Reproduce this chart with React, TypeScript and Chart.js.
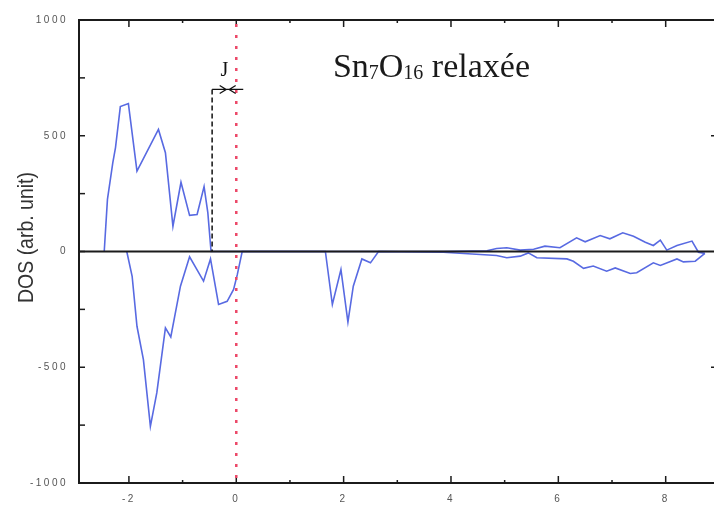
import React, { useEffect, useRef } from 'react';
import { Chart, registerables } from 'chart.js';

Chart.register(...registerables);

// Spin-up DOS (positive) — energy (eV) and DOS (arb. unit)
const spinUpEnergy = [-2.46, -2.40, -2.30, -2.25, -2.16, -2.01, -1.85, -1.45, -1.32, -1.18, -1.03, -0.87, -0.73, -0.60, -0.53, -0.47,
  3.86, 4.67, 4.85, 5.04, 5.29, 5.54, 5.75, 6.03, 6.34, 6.50, 6.78, 6.96, 7.20, 7.40, 7.62, 7.77, 7.90, 8.02, 8.21, 8.49, 8.61, 8.73];
const spinUpDos = [0, 225, 384, 449, 626, 639, 347, 527, 427, 109, 299, 156, 160, 280, 168, 0,
  0, 3, 13, 16, 6, 10, 23, 16, 59, 42, 69, 55, 81, 66, 40, 26, 49, 6, 26, 45, -3, -8];

// Spin-down DOS (negative)
const spinDownEnergy = [-2.04, -1.94, -1.85, -1.73, -1.60, -1.48, -1.32, -1.22, -1.04, -0.87, -0.61, -0.48, -0.33, -0.17, -0.05, 0.02, 0.11,
  1.66, 1.79, 1.95, 2.08, 2.18, 2.34, 2.50, 2.65,
  3.86, 4.85, 5.04, 5.29, 5.44, 5.60, 6.16, 6.28, 6.47, 6.65, 6.90, 7.06, 7.34, 7.46, 7.77, 7.90, 8.21, 8.33, 8.55, 8.73];
const spinDownDos = [0, -107, -323, -467, -755, -610, -330, -369, -150, -23, -128, -32, -229, -215, -164, -99, 0,
  0, -229, -78, -305, -150, -32, -49, 0,
  -3, -17, -27, -20, -6, -27, -32, -42, -73, -63, -85, -71, -95, -92, -49, -60, -32, -45, -42, -8];

// Axes
const xMin = -2.93;
const xMax = 8.9;
const yMin = -1000;
const yMax = 1000;
const yLabelStep = 500;
const yTickStep = 250;

// Annotations
const fermiEnergy = 0;
const gapEdgeEnergy = -0.45;
const gapArrowDos = 700;
const gapArrowEnd = 0.13;
const gapLabel = 'J';
const gapLabelEnergy = -0.22;
const gapLabelDos = 760;
const titleEnergy = 1.8;
const titleDos = 755;
const titleParts = [
  { text: 'Sn', sub: false },
  { text: '7', sub: true },
  { text: 'O', sub: false },
  { text: '16', sub: true },
  { text: ' relaxée', sub: false },
];
const yAxisTitle = 'DOS (arb. unit)';

const curveColor = 'rgb(88,106,226)';
const frameColor = '#1b1b1b';

const decorPlugin = {
  id: 'decor',
  beforeDraw(chart: any) {
    chart.ctx.letterSpacing = '2.5px';
  },
  beforeDatasetsDraw(chart: any) {
    chart.ctx.letterSpacing = '0px';
  },
  afterDatasetsDraw(chart: any) {
    const ctx = chart.ctx as CanvasRenderingContext2D;
    const { left, right, top, bottom } = chart.chartArea;
    const xs = chart.scales.x;
    const ys = chart.scales.y;
    ctx.save();
    ctx.letterSpacing = '0px';

    // zero line
    const y0 = ys.getPixelForValue(0);
    ctx.strokeStyle = frameColor;
    ctx.lineWidth = 1.8;
    ctx.beginPath();
    ctx.moveTo(left, y0);
    ctx.lineTo(right, y0);
    ctx.stroke();

    // frame (top, left, bottom)
    ctx.lineWidth = 2;
    ctx.beginPath();
    ctx.moveTo(right, top);
    ctx.lineTo(left, top);
    ctx.lineTo(left, bottom);
    ctx.lineTo(right, bottom);
    ctx.stroke();

    // x ticks (bottom and top, inward)
    ctx.lineWidth = 1.5;
    xs.ticks.forEach((t: any) => {
      const v = Math.round(t.value);
      const px = xs.getPixelForValue(t.value);
      const len = v % 2 === 0 ? 7 : 3;
      ctx.beginPath();
      ctx.moveTo(px, bottom);
      ctx.lineTo(px, bottom - len);
      ctx.moveTo(px, top);
      ctx.lineTo(px, top + len);
      ctx.stroke();
    });
    // y ticks (left inward, right small)
    ys.ticks.forEach((t: any) => {
      const py = ys.getPixelForValue(t.value);
      ctx.beginPath();
      ctx.moveTo(left, py);
      ctx.lineTo(left + 6, py);
      ctx.stroke();
      if (t.value % yLabelStep === 0 && t.value !== 0 && Math.abs(t.value) !== yMax) {
        ctx.beginPath();
        ctx.moveTo(right, py);
        ctx.lineTo(right - 3, py);
        ctx.stroke();
      }
    });

    // Fermi level (red dotted)
    const xf = xs.getPixelForValue(fermiEnergy);
    ctx.strokeStyle = 'rgb(236,72,104)';
    ctx.lineWidth = 2.5;
    ctx.setLineDash([3, 8]);
    ctx.beginPath();
    ctx.moveTo(xf, top + 4);
    ctx.lineTo(xf, bottom);
    ctx.stroke();

    // gap edge dashed line
    const xg = xs.getPixelForValue(gapEdgeEnergy);
    const ya = ys.getPixelForValue(gapArrowDos);
    ctx.strokeStyle = '#111';
    ctx.lineWidth = 1.5;
    ctx.setLineDash([5, 3]);
    ctx.beginPath();
    ctx.moveTo(xg, ya);
    ctx.lineTo(xg, y0);
    ctx.stroke();
    ctx.setLineDash([]);

    // arrow
    const xe = xs.getPixelForValue(gapArrowEnd);
    const mid = (xg + xe) / 2;
    ctx.lineWidth = 1.3;
    ctx.beginPath();
    ctx.moveTo(xg, ya);
    ctx.lineTo(xe, ya);
    ctx.moveTo(mid - 8, ya - 4);
    ctx.lineTo(mid - 1.5, ya);
    ctx.lineTo(mid - 8, ya + 4);
    ctx.moveTo(mid + 8, ya - 4);
    ctx.lineTo(mid + 1.5, ya);
    ctx.lineTo(mid + 8, ya + 4);
    ctx.stroke();

    // J label
    ctx.fillStyle = '#111';
    ctx.font = '20px "Liberation Serif", serif';
    ctx.textAlign = 'center';
    ctx.textBaseline = 'alphabetic';
    ctx.fillText(gapLabel, xs.getPixelForValue(gapLabelEnergy), ys.getPixelForValue(gapLabelDos));

    // Title with subscripts
    let tx = xs.getPixelForValue(titleEnergy);
    const tyBase = ys.getPixelForValue(titleDos);
    ctx.textAlign = 'left';
    ctx.fillStyle = '#1a1a1a';
    titleParts.forEach((p) => {
      ctx.font = p.sub ? '20px "Liberation Serif", serif' : '34px "Liberation Serif", serif';
      const ty = p.sub ? tyBase + 2 : tyBase;
      ctx.fillText(p.text, tx, ty);
      tx += ctx.measureText(p.text).width;
    });

    // Y axis title (rotated)
    ctx.save();
    ctx.translate(33, (top + bottom) / 2 - 14);
    ctx.rotate(-Math.PI / 2);
    ctx.font = '22px "Liberation Sans", Arial, sans-serif';
    const w = ctx.measureText(yAxisTitle).width;
    ctx.scale(131 / w, 1);
    ctx.textAlign = 'center';
    ctx.fillStyle = '#333';
    ctx.fillText(yAxisTitle, 0, 0);
    ctx.restore();

    ctx.restore();
  },
};

export default function App() {
  const ref = useRef<HTMLCanvasElement | null>(null);

  useEffect(() => {
    if (!ref.current) return;
    const tickFont = { family: '"Liberation Sans", Arial, sans-serif', size: 10 };
    const chart = new Chart(ref.current, {
      type: 'line',
      data: {
        datasets: [
          {
            label: 'spin up',
            data: spinUpEnergy.map((x, i) => ({ x, y: spinUpDos[i] })),
            borderColor: curveColor,
            borderWidth: 1.6,
            pointRadius: 0,
            tension: 0,
            fill: false,
          },
          {
            label: 'spin down',
            data: spinDownEnergy.map((x, i) => ({ x, y: spinDownDos[i] })),
            borderColor: curveColor,
            borderWidth: 1.6,
            pointRadius: 0,
            tension: 0,
            fill: false,
          },
        ],
      },
      options: {
        animation: false,
        responsive: false,
        maintainAspectRatio: false,
        layout: { padding: { top: 20, left: 0, right: 0, bottom: 0 } },
        plugins: { legend: { display: false }, tooltip: { enabled: false } },
        scales: {
          x: {
            type: 'linear',
            min: xMin,
            max: xMax,
            afterFit: (s: any) => { s.height = 26; },
            grid: { display: false },
            border: { display: false },
            ticks: {
              stepSize: 1,
              includeBounds: false,
              autoSkip: false,
              maxRotation: 0,
              padding: 2,
              color: '#555',
              font: tickFont,
              callback: (v: any) => (Math.round(v) % 2 === 0 ? String(Math.round(v)) : ''),
            },
          },
          y: {
            type: 'linear',
            min: yMin,
            max: yMax,
            afterFit: (s: any) => { s.width = 79; },
            grid: { display: false },
            border: { display: false },
            ticks: {
              stepSize: yTickStep,
              autoSkip: false,
              padding: 3,
              color: '#555',
              font: tickFont,
              callback: (v: any) => (v % yLabelStep === 0 ? String(v) : ''),
            },
          },
        },
      },
      plugins: [decorPlugin],
    } as any);
    return () => chart.destroy();
  }, []);

  return (
    <div style={{ position: 'absolute', left: 0, top: 0, width: 714, height: 509, background: '#fff' }}>
      <canvas ref={ref} width={714} height={509} style={{ display: 'block' }} />
    </div>
  );
}
